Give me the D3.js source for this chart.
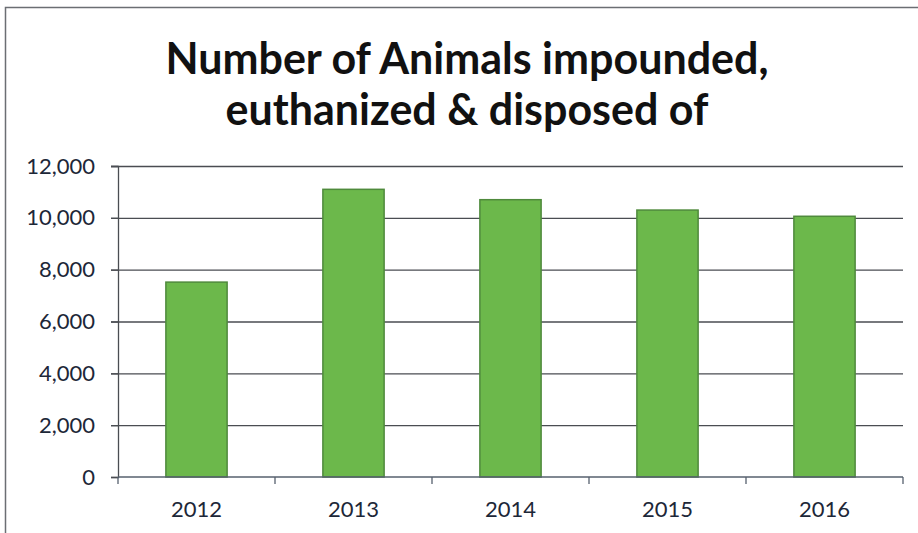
<!DOCTYPE html>
<html>
<head>
<meta charset="utf-8">
<script src="https://cdn.jsdelivr.net/npm/d3@7"></script>
<style>
  body { margin: 0; background: #fff; }
  svg { display: block; }
</style>
</head>
<body>
<svg id="chart" width="918" height="533"></svg>
<script>
// values
const years = ["2012", "2013", "2014", "2015", "2016"];
const animals = [7520, 11100, 10700, 10300, 10060];
const yTicks = [0, 2000, 4000, 6000, 8000, 10000, 12000];
const titleLines = ["Number of Animals impounded,", "euthanized & disposed of"];

const width = 918, height = 533;
const margin = {top: 166, right: 15, bottom: 56, left: 118};
const font = "Lato, 'Open Sans', sans-serif";

const svg = d3.select("#chart");

// outer chart border (only top and left edges fall in the frame)
svg.append("rect")
  .attr("x", 5.5)
  .attr("y", 7.5)
  .attr("width", width + 20)
  .attr("height", height + 20)
  .attr("fill", "none")
  .attr("stroke", "#6b6e73")
  .attr("stroke-width", 1.5);

svg.append("g")
  .selectAll("text")
  .data(titleLines)
  .join("text")
  .attr("x", 467)
  .attr("y", (d, i) => 74 + i * 51)
  .attr("text-anchor", "middle")
  .attr("font-family", font)
  .attr("font-weight", "bold")
  .attr("font-size", 43)
  .attr("fill", "#111")
  .text(d => d);

const x = d3.scaleBand()
  .domain(years)
  .range([margin.left, width - margin.right])
  .paddingInner(0.61)
  .paddingOuter(0.305);

const y = d3.scaleLinear()
  .domain([0, 12000])
  .range([height - margin.bottom, margin.top]);

// gridlines
svg.append("g")
  .selectAll("line")
  .data(yTicks.slice(1))
  .join("line")
  .attr("x1", margin.left - 7)
  .attr("x2", width - margin.right)
  .attr("y1", d => y(d) + 0.5)
  .attr("y2", d => y(d) + 0.5)
  .attr("stroke", "#4a4d52")
  .attr("stroke-width", 1.3);

// bars
svg.append("g")
  .selectAll("rect")
  .data(animals)
  .join("rect")
  .attr("x", (d, i) => x(years[i]))
  .attr("y", d => y(d))
  .attr("width", x.bandwidth())
  .attr("height", d => y(0) - y(d))
  .attr("fill", "#6cb84b")
  .attr("stroke", "#4f8a3c")
  .attr("stroke-width", 1.5);

// y axis
const yAxis = svg.append("g")
  .attr("transform", "translate(" + margin.left + ",0)")
  .call(d3.axisLeft(y).tickValues(yTicks).tickSize(7).tickPadding(16)
    .tickFormat(d3.format(",")));
yAxis.select(".domain").attr("stroke", "#4a4d52").attr("stroke-width", 1.3);
yAxis.selectAll(".tick line").attr("stroke", "#4a4d52").attr("stroke-width", 1.3);
yAxis.selectAll("text")
  .attr("font-family", font)
  .attr("font-size", 22)
  .attr("fill", "#1d2738");

// x axis: ticks sit between categories
const xBoundaries = d3.range(years.length + 1)
  .map(i => margin.left + i * (width - margin.right - margin.left) / years.length);

const xAxis = svg.append("g")
  .attr("transform", "translate(0," + y(0) + ")");
xAxis.append("line")
  .attr("x1", margin.left)
  .attr("x2", width - margin.right)
  .attr("stroke", "#56606e")
  .attr("stroke-width", 1.5);
xAxis.selectAll(".bound")
  .data(xBoundaries)
  .join("line")
  .attr("class", "bound")
  .attr("x1", d => d)
  .attr("x2", d => d)
  .attr("y1", 0)
  .attr("y2", 7)
  .attr("stroke", "#56606e")
  .attr("stroke-width", 1.3);
xAxis.selectAll("text")
  .data(years)
  .join("text")
  .attr("x", d => x(d) + x.bandwidth() / 2)
  .attr("y", 40)
  .attr("text-anchor", "middle")
  .attr("font-family", font)
  .attr("font-size", 22)
  .attr("fill", "#1d2738")
  .text(d => d);
</script>
</body>
</html>
